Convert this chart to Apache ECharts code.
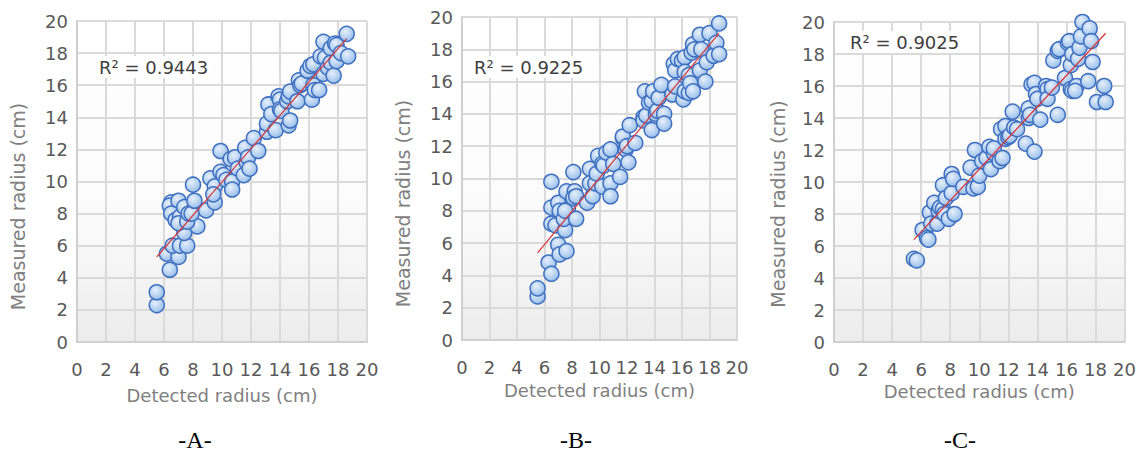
<!DOCTYPE html>
<html>
<head>
<meta charset="utf-8">
<script src="https://cdn.jsdelivr.net/npm/echarts@6/dist/echarts.min.js"></script>
<style>
  html, body { margin: 0; padding: 0; background: #fff; }
  #chart { width: 1139px; height: 456px; }
</style>
</head>
<body>
<div id="chart"></div>
<script>
// detected radius (x), measured radius (y)
const pointsA = [
  [5.5,2.3],[5.5,3.1],[6.4,4.5],[6.2,5.5],[7.0,5.3],[6.6,6.0],[7.1,6.0],[7.6,6.0],[7.4,6.8],[8.3,7.2],
  [6.5,8.7],[6.4,8.5],[7.0,8.8],[6.5,8.0],[6.8,7.6],[7.1,7.8],[7.0,7.4],[7.6,7.5],[7.4,8.4],[7.7,8.0],
  [7.9,8.0],[8.1,8.8],[8.0,9.8],[8.9,8.2],[9.2,10.2],[9.5,8.7],[9.5,9.7],[9.4,9.2],[9.9,11.9],[9.9,10.6],
  [10.1,10.4],[10.3,10.1],[10.6,11.4],[10.7,10.0],[10.7,9.5],[10.9,11.5],[11.1,10.8],[11.5,10.4],[11.6,12.1],[11.7,11.2],
  [11.8,11.5],[11.9,10.8],[12.2,12.7],[12.5,11.9],[13.1,13.1],[13.1,13.6],[13.2,14.8],[13.4,14.2],[13.7,13.2],[13.9,15.3],
  [14.0,15.1],[14.0,14.5],[14.1,14.4],[14.5,15.0],[14.6,15.3],[14.6,13.5],[14.7,13.8],[14.7,15.6],[15.2,15.0],[15.3,16.3],
  [15.4,16.0],[15.5,16.1],[15.9,16.9],[16.1,17.2],[16.2,15.1],[16.3,17.3],[16.3,16.0],[16.4,15.7],[16.7,15.7],[16.8,17.8],
  [17.0,18.7],[17.0,16.7],[17.1,17.7],[17.3,17.1],[17.5,18.3],[17.5,17.4],[17.7,16.6],[17.8,18.6],[17.9,17.5],[17.9,18.5],
  [18.2,18.0],[18.6,19.2],[18.7,17.8]
];
const pointsB = [
  [5.5,2.7],[5.5,3.2],[6.3,4.8],[6.5,4.1],[6.5,9.8],[6.5,8.2],[6.5,7.2],[6.8,7.1],[7.0,8.5],[7.1,8.0],
  [7.0,5.9],[7.1,5.3],[7.6,5.5],[7.5,6.8],[7.4,7.5],[7.6,9.2],[7.7,8.1],[7.5,8.0],[8.2,9.2],[8.1,10.4],
  [8.1,8.8],[8.3,8.9],[8.3,7.5],[9.1,8.5],[9.3,10.6],[9.3,9.7],[9.5,8.9],[9.7,9.7],[9.8,10.3],[9.9,11.4],
  [10.2,10.9],[10.2,9.5],[10.3,10.8],[10.5,11.6],[10.8,11.8],[10.8,9.7],[10.8,8.9],[11.0,10.9],[11.5,10.1],[11.7,12.5],
  [11.7,12.6],[11.9,11.8],[12.0,12.0],[12.1,11.0],[12.2,13.3],[12.6,12.2],[13.2,13.8],[13.2,13.6],[13.3,15.4],[13.4,13.9],
  [13.6,14.7],[13.8,13.0],[13.8,14.8],[13.9,15.4],[14.1,14.0],[14.2,14.2],[14.3,15.0],[14.5,15.8],[14.7,14.0],[14.7,13.4],
  [15.3,15.2],[15.4,17.1],[15.5,16.7],[15.5,15.7],[15.7,17.4],[16.0,17.3],[16.1,14.9],[16.2,15.4],[16.2,17.5],[16.2,16.6],
  [16.5,15.3],[16.5,16.4],[16.6,15.9],[16.7,17.8],[16.8,15.4],[16.8,18.3],[16.9,18.0],[17.3,18.9],[17.3,16.7],[17.4,18.0],
  [17.7,16.0],[17.8,17.2],[18.0,19.0],[18.3,17.6],[18.5,18.4],[18.7,17.7],[18.7,19.6]
];
const pointsC = [
  [5.5,5.2],[5.7,5.1],[6.1,7.0],[6.4,6.5],[6.5,6.4],[6.6,8.1],[6.7,7.4],[6.9,8.7],[7.1,7.4],[7.2,8.2],
  [7.3,8.4],[7.5,9.8],[7.5,8.3],[7.6,8.0],[7.7,9.0],[7.9,7.7],[8.1,9.3],[8.1,10.5],[8.2,10.2],[8.3,8.0],
  [8.9,9.7],[9.4,10.9],[9.6,9.6],[9.7,12.0],[9.9,9.7],[10.0,10.4],[10.2,11.3],[10.5,11.5],[10.7,12.2],[10.8,10.8],
  [11.0,11.8],[11.0,12.1],[11.4,11.3],[11.6,11.5],[11.5,13.3],[11.8,13.5],[11.8,12.7],[12.0,12.8],[12.1,12.9],[12.3,14.4],
  [12.4,13.4],[12.6,13.3],[13.2,12.4],[13.4,14.6],[13.4,14.0],[13.5,14.2],[13.8,11.9],[13.6,16.1],[13.8,16.2],[13.9,15.5],
  [14.0,15.2],[14.2,13.9],[14.6,16.0],[14.7,15.8],[14.7,15.2],[15.0,15.9],[15.1,17.6],[15.4,18.2],[15.5,18.3],[15.4,14.2],
  [15.9,16.5],[16.1,18.7],[16.2,18.8],[16.3,17.3],[16.3,15.8],[16.4,18.0],[16.4,15.7],[16.7,16.0],[16.6,15.7],[16.8,17.7],
  [16.9,18.4],[17.0,19.1],[17.1,20.0],[17.5,16.3],[17.6,19.6],[17.7,18.8],[17.8,17.5],[18.1,15.0],[18.6,16.0],[18.7,15.0]
];

// linear trend line end points
const trendA = [[5.5,5.3],[18.6,18.9]];
const trendB = [[5.5,5.4],[18.7,19.0]];
const trendC = [[5.5,6.4],[18.7,19.3]];

const r2Labels = ['R² = 0.9443', 'R² = 0.9225', 'R² = 0.9025'];
const panelTags = ['-A-', '-B-', '-C-'];
const xTitle = 'Detected radius (cm)';
const yTitle = 'Measured radius (cm)';

const FONT = '"DejaVu Sans", Verdana, sans-serif';

// placement of each panel
const panels = [
  { data: pointsA, trend: trendA, grid: { left: 77, top: 21, width: 290, height: 321 }, r2: [97, 67], tag: 195, yGap: 50, xGap: 44, yShift: 50 },
  { data: pointsB, trend: trendB, grid: { left: 462, top: 17, width: 275, height: 323 }, r2: [472, 67], tag: 576, yGap: 50, xGap: 41, yShift: 50 },
  { data: pointsC, trend: trendC, grid: { left: 834, top: 22, width: 291, height: 320 }, r2: [848, 42], tag: 960, yGap: 47, xGap: 39, yShift: 44 }
];

const gridLine = { show: true, lineStyle: { color: '#dadada', width: 2 } };
const axisLine = { show: true, lineStyle: { color: '#cfcfcf', width: 2 } };

const grids = [], xAxes = [], yAxes = [], series = [], graphics = [];

panels.forEach((p, i) => {
  grids.push(Object.assign({
    show: true,
    borderWidth: 0,
    backgroundColor: {
      type: 'linear', x: 0, y: 0, x2: 0, y2: 1,
      colorStops: [{ offset: 0, color: '#ffffff' }, { offset: 0.6, color: '#fbfbfb' }, { offset: 1, color: '#ececec' }]
    }
  }, p.grid));

  xAxes.push({
    type: 'value', gridIndex: i, min: 0, max: 20, interval: 2,
    name: xTitle, nameLocation: 'middle', nameGap: p.xGap,
    nameTextStyle: { color: '#808080', fontSize: 18, fontFamily: FONT },
    axisLine: axisLine, axisTick: { show: false }, splitLine: gridLine,
    axisLabel: { color: '#595959', fontSize: 18, fontFamily: FONT, margin: 18 }
  });

  yAxes.push({
    type: 'value', gridIndex: i, min: 0, max: 20, interval: 2,
    name: yTitle, nameLocation: 'middle', nameGap: p.yGap,
    nameTextStyle: { color: '#808080', fontSize: 19, fontFamily: FONT, padding: [0, p.yShift, 0, 0] },
    axisLine: axisLine, axisTick: { show: false }, splitLine: gridLine,
    axisLabel: { color: '#595959', fontSize: 18, fontFamily: FONT, margin: 9 }
  });

  series.push({
    type: 'scatter', xAxisIndex: i, yAxisIndex: i, data: p.data,
    symbolSize: 15,
    itemStyle: {
      color: {
        type: 'radial', x: 0.4, y: 0.35, r: 0.75,
        colorStops: [{ offset: 0, color: '#e6f0fc' }, { offset: 1, color: '#8fb8e8' }]
      },
      borderColor: '#3f70c0', borderWidth: 1.5, opacity: 1
    },
    z: 3
  });

  series.push({
    type: 'line', xAxisIndex: i, yAxisIndex: i, data: p.trend,
    symbol: 'none', silent: true,
    lineStyle: { color: '#d8393b', width: 1.3 },
    z: 4
  });

  graphics.push({
    type: 'text', x: p.r2[0], y: p.r2[1], z: 10,
    style: {
      text: r2Labels[i], fill: '#404040', font: '18px ' + FONT, textVerticalAlign: 'middle',
      backgroundColor: '#ffffff', padding: [2, 2, 2, 2]
    }
  });
  graphics.push({
    type: 'text', x: p.tag, y: 440, z: 10,
    style: { text: panelTags[i], fill: '#000', font: '24px "Liberation Serif", "Times New Roman", serif', textAlign: 'center', textVerticalAlign: 'middle' }
  });
});

const chart = echarts.init(document.getElementById('chart'), null, { renderer: 'svg' });
chart.setOption({
  animation: false,
  backgroundColor: '#ffffff',
  grid: grids,
  xAxis: xAxes,
  yAxis: yAxes,
  series: series,
  graphic: graphics
});
</script>
</body>
</html>
